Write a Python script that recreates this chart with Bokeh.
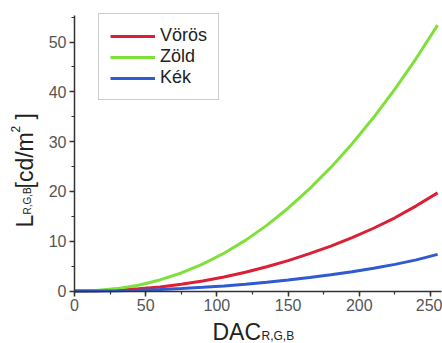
import math
from bokeh.plotting import figure
from bokeh.models import Label, Legend, LegendItem, SingleIntervalTicker, Range1d
from bokeh.embed import file_html
from bokeh.resources import INLINE

# ---- data ----
dac = [0, 15, 30, 45, 60, 75, 90, 105, 120, 135, 150, 165, 180, 195, 210, 225, 240, 255]
voros = [0, 0.04, 0.18, 0.43, 0.82, 1.34, 1.99, 2.80, 3.75, 4.86, 6.10, 7.50, 9.0, 10.7, 12.6, 14.7, 17.1, 19.7]
zold = [0, 0.10, 0.48, 1.17, 2.22, 3.62, 5.40, 7.58, 10.17, 13.18, 16.62, 20.50, 24.82, 29.59, 34.83, 40.55, 46.73, 53.4]
kek = [0, 0.01, 0.07, 0.16, 0.31, 0.50, 0.74, 1.02, 1.36, 1.76, 2.20, 2.70, 3.25, 3.88, 4.58, 5.35, 6.25, 7.35]
series_names = ["Vörös", "Zöld", "Kék"]
x_ticks_interval = 50
y_ticks_interval = 10
x_axis_bounds = (0, 257.5)
y_axis_bounds = (0, 55.4)

# ---- layout (pixel geometry of the canvas) ----
W, H = 442, 343
X0_PX, Y0_PX = 74.0, 290.5        # where (0, 0) sits on the canvas
X_PPU, Y_PPU = 1.424, 4.98        # pixels per data unit
FONT = "Liberation Sans"

x_start = -X0_PX / X_PPU
x_end = x_start + W / X_PPU
y_end = Y0_PX / Y_PPU
y_start = y_end - H / Y_PPU

p = figure(width=W, height=H, output_backend="svg", toolbar_location=None,
           x_range=Range1d(x_start, x_end), y_range=Range1d(y_start, y_end),
           min_border_left=0, min_border_right=0, min_border_top=0, min_border_bottom=0)
p.outline_line_color = None
p.grid.visible = False
p.background_fill_color = "white"
p.border_fill_color = "white"

colors = ["#dc1f34", "#7fe03c", "#2f5ad2"]
renderers = []
for ys, c in zip([voros, zold, kek], colors):
    r = p.line(dac, ys, line_color=c, line_width=3)
    renderers.append(r)

for ax, interval, bounds in [(p.xaxis[0], x_ticks_interval, x_axis_bounds),
                             (p.yaxis[0], y_ticks_interval, y_axis_bounds)]:
    ax.fixed_location = 0
    ax.bounds = bounds
    ax.ticker = SingleIntervalTicker(interval=interval, num_minor_ticks=2)
    ax.axis_line_color = "#333333"
    ax.axis_line_width = 1.5
    ax.major_tick_line_color = "#333333"
    ax.minor_tick_line_color = "#333333"
    ax.major_tick_line_width = 1.5
    ax.minor_tick_line_width = 1.2
    ax.major_tick_out = 5
    ax.major_tick_in = 0
    ax.minor_tick_out = 3
    ax.minor_tick_in = 0
    ax.major_label_text_font = FONT
    ax.major_label_text_font_size = "16px"
    ax.major_label_text_color = "#555555"
    ax.major_label_standoff = 3

# ---- legend (box top-left at canvas pixel (98, 18)) ----
legend = Legend(items=[LegendItem(label=n, renderers=[r]) for n, r in zip(series_names, renderers)],
                location=(98, H - 18 - 82),
                label_text_font=FONT, label_text_font_size="18px", label_text_color="#222222",
                label_height=20, glyph_height=20, glyph_width=45, spacing=0, padding=11,
                label_standoff=5, border_line_color="#9a9a9a", border_line_width=1,
                background_fill_color="white", background_fill_alpha=1.0, margin=0)
p.add_layout(legend)

# ---- axis titles built from labels with sub/superscripts ----
def dx(px):
    return x_start + px / X_PPU

def dy(py):
    return y_end - py / Y_PPU

def lab(text, px, py, size, angle=0.0):
    p.add_layout(Label(x=dx(px), y=dy(py), text=text, angle=angle,
                       text_font=FONT, text_font_size=size, text_color="#222222",
                       text_align="left", text_baseline="alphabetic"))

# x title: DAC_{R,G,B}
lab("DAC", 212, 331, "23px")
lab("R,G,B", 261, 335, "12px")

# y title: L_{R,G,B}[cd/m^2]
a = math.pi / 2
lab("L", 24, 227, "23px", a)
lab("R,G,B", 27, 214, "10px", a)
lab("[cd/m", 24, 188, "23px", a)
lab("2", 15, 132, "12px", a)
lab("]", 24, 119, "23px", a)

open("out.html", "w").write(file_html(p, INLINE))
